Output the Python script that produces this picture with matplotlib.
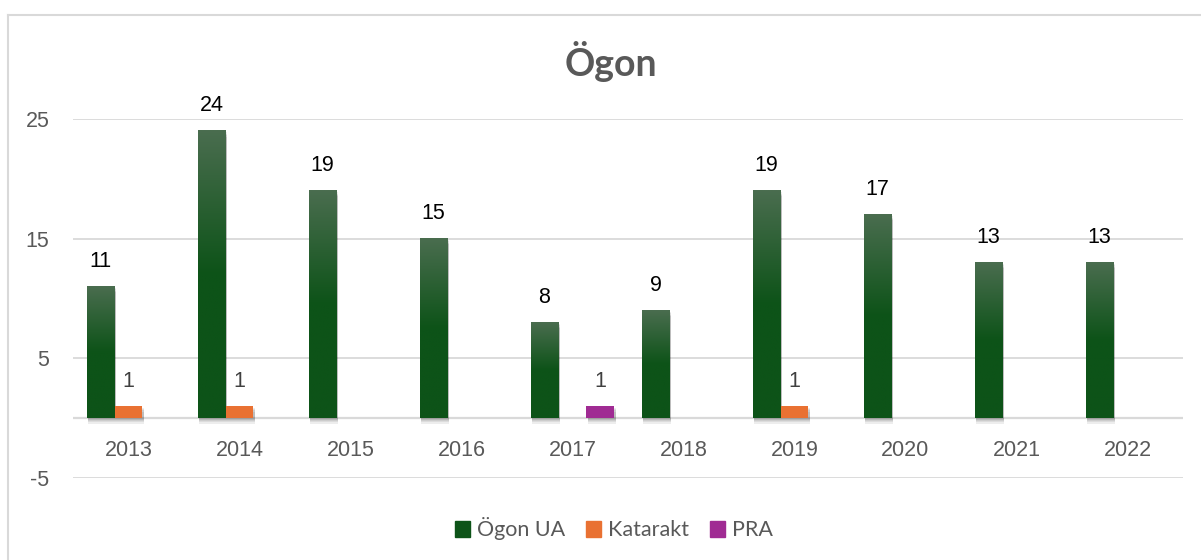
import numpy as np
import matplotlib
matplotlib.use("Agg")
import matplotlib.pyplot as plt
import matplotlib.patheffects as pe
from matplotlib.patches import Patch
from matplotlib.lines import Line2D

# data
years = ["2013", "2014", "2015", "2016", "2017", "2018", "2019", "2020", "2021", "2022"]
ogon_ua = [11, 24, 19, 15, 8, 9, 19, 17, 13, 13]
katarakt = [1, 1, 0, 0, 0, 0, 1, 0, 0, 0]
pra = [0, 0, 0, 0, 1, 0, 0, 0, 0, 0]
series_names = ["Ögon UA", "Katarakt", "PRA"]
y_ticks = [-5, 5, 15, 25]

GREEN_TOP = np.array([0x4a, 0x6d, 0x4f]) / 255
GREEN_BOT = np.array([0x0d, 0x53, 0x18]) / 255
ORANGE = "#E97132"
PURPLE = "#A02B93"
GRID = "#d9d9d9"
TXT = "#595959"

fig = plt.figure(figsize=(12.01, 5.6), dpi=100)
ax = fig.add_axes([73 / 1201, 1 - 478 / 560, (1183 - 73) / 1201, (478 - 119) / 560])

x = np.arange(len(years))
w = 0.252

shadow = [pe.SimplePatchShadow(offset=(0.8, -d), shadow_rgbFace="k", alpha=0.07) for d in (1, 2, 3, 4)]
shadow.append(pe.Normal())


def draw_series(vals, offset, color, gradient=False):
    for xi, v in zip(x, vals):
        if v == 0:
            continue
        x0 = xi + offset - w / 2
        r = ax.bar(xi + offset, v, width=w, color=GREEN_BOT if gradient else color, zorder=3)
        r[0].set_path_effects(shadow)
        if gradient:
            n = 200
            t = np.clip(np.linspace(0, 1, n) / 0.5, 0, 1)[:, None]
            img = (GREEN_TOP * (1 - t) + GREEN_BOT * t)[:, None, :]
            ax.imshow(img, extent=(x0, x0 + w, 0, v), aspect="auto", origin="upper",
                      zorder=4, interpolation="bilinear")


draw_series(ogon_ua, -w, None, gradient=True)
draw_series(katarakt, 0, ORANGE)
draw_series(pra, w, PURPLE)

# data labels
for xi, v in zip(x, ogon_ua):
    ax.annotate(str(v), (xi - w, v), xytext=(0, 18), textcoords="offset points",
                ha="center", va="center", fontsize=15.5, color="black",
                family="Liberation Sans", zorder=6, annotation_clip=False)
for vals, off in ((katarakt, 0), (pra, w)):
    for xi, v in zip(x, vals):
        if v:
            ax.annotate(str(v), (xi + off, v), xytext=(0, 18),
                        textcoords="offset points", ha="center", va="center",
                        fontsize=15.5, color="#404040", family="Liberation Sans", zorder=6)

ax.set_xlim(-0.5, len(years) - 0.5)
ax.set_ylim(-5, 25)
ax.set_yticks(y_ticks)
ax.set_yticklabels([str(t) for t in y_ticks])
ax.set_xticks(x)
ax.set_xticklabels(years)
ax.yaxis.grid(True, color=GRID, lw=1.3, zorder=0)
ax.set_axisbelow(True)
ax.axhline(0, color=GRID, lw=1.6, zorder=2)
for s in ax.spines.values():
    s.set_visible(False)
ax.spines["bottom"].set_position(("data", 0))
ax.tick_params(axis="both", length=0, labelsize=15.5, labelcolor=TXT)
ax.tick_params(axis="y", pad=17)
ax.tick_params(axis="x", pad=16)
for lab in ax.get_xticklabels() + ax.get_yticklabels():
    lab.set_family("Liberation Sans")

fig.text(611 / 1201, 1 - 62 / 560, "Ögon", ha="center", va="center", fontsize=27,
         fontweight="bold", color=TXT, family="Lato")

handles = [Patch(color=GREEN_BOT), Patch(color=ORANGE), Patch(color=PURPLE)]
leg = fig.legend(handles, series_names, loc="center", bbox_to_anchor=(614 / 1201, 1 - 529 / 560),
                 ncol=3, frameon=False, handlelength=0.7, handleheight=0.7,
                 handletextpad=0.3, columnspacing=1.0, prop={"family": "Lato", "size": 15.5})
for t in leg.get_texts():
    t.set_color(TXT)

# chart border (top and left edge visible)
fig.add_artist(Line2D([8 / 1201, 1], [1 - 15 / 560, 1 - 15 / 560], color=GRID, lw=1.5))
fig.add_artist(Line2D([8 / 1201, 8 / 1201], [0, 1 - 15 / 560], color=GRID, lw=1.5))

fig.savefig("out.png", dpi=100)
